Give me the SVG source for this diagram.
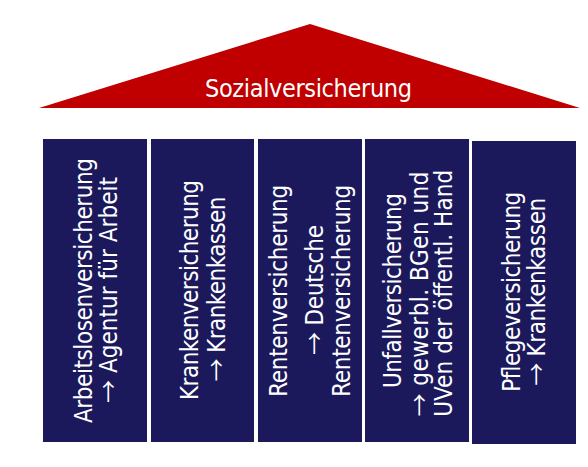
<svg xmlns="http://www.w3.org/2000/svg" width="588" height="467" viewBox="0 0 588 467">
<style>
.col{fill:#1b195c}
.t{fill:#ffffff;font-family:"DejaVu Sans Condensed","DejaVu Sans",sans-serif;font-stretch:condensed;font-size:24px;text-anchor:middle}
.title{fill:#ffffff;font-family:"DejaVu Sans Condensed","DejaVu Sans",sans-serif;font-stretch:condensed;font-size:25px;text-anchor:middle}
.ar{font-family:"Noto Sans CJK SC","DejaVu Sans",sans-serif;font-stretch:normal;font-size:23px}
</style>
<rect width="588" height="467" fill="#ffffff"/>
<g id="roof">
<polygon points="39,108 310,24 580,108" fill="#c00000"/>
<text class="title" x="308.5" y="97" textLength="207">Sozialversicherung</text>
</g>
<g id="col1">
<rect class="col" x="43" y="139" width="104" height="303"/>
<text class="t" transform="rotate(-90)"><tspan x="-290.5" y="91.5" textLength="265">Arbeitslosenversicherung</tspan><tspan x="-290" y="117.3" textLength="226"><tspan class="ar">→</tspan> Agentur für Arbeit</tspan></text>
</g>
<g id="col2">
<rect class="col" x="151" y="139" width="103" height="303"/>
<text class="t" transform="rotate(-90)"><tspan x="-290" y="198.3" textLength="220">Krankenversicherung</tspan><tspan x="-289" y="224.5" textLength="185"><tspan class="ar">→</tspan> Krankenkassen</tspan></text>
</g>
<g id="col3">
<rect class="col" x="258" y="139" width="104" height="303"/>
<text class="t" transform="rotate(-90)"><tspan x="-290.8" y="286.7" textLength="212">Rentenversicherung</tspan><tspan x="-290" y="323.3" textLength="130"><tspan class="ar">→</tspan> Deutsche</tspan><tspan x="-290.8" y="350" textLength="212">Rentenversicherung</tspan></text>
</g>
<g id="col4">
<rect class="col" x="365" y="139" width="104" height="303"/>
<text class="t" transform="rotate(-90)"><tspan x="-290.5" y="400.5" textLength="195">Unfallversicherung</tspan><tspan x="-294" y="428" textLength="245"><tspan class="ar">→</tspan> gewerbl. BGen und</tspan><tspan x="-293.3" y="451.7" textLength="247">UVen der öffentl. Hand</tspan></text>
</g>
<g id="col5">
<rect class="col" x="472" y="141" width="104" height="303"/>
<text class="t" transform="rotate(-90)"><tspan x="-291.7" y="520" textLength="200">Pflegeversicherung</tspan><tspan x="-291.7" y="545" textLength="188"><tspan class="ar">→</tspan> Krankenkassen</tspan></text>
</g>
<g id="connectors"/>
</svg>
